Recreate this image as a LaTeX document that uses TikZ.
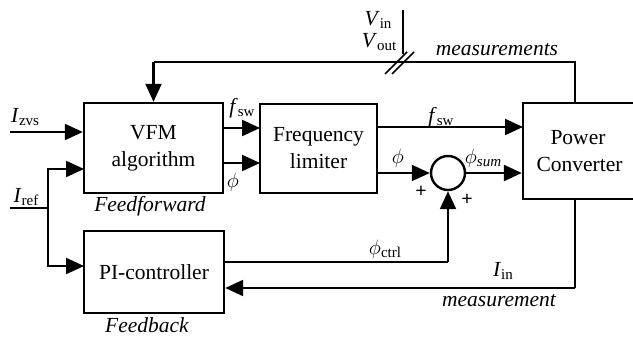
\documentclass[tikz,border=0pt]{standalone}
\usepackage{fontspec}
\setmainfont{Liberation Serif}
\usetikzlibrary{arrows.meta,calc}
\newcommand\sbs[1]{\raisebox{-0.35ex}{\fontsize{15}{15}\selectfont #1}}
\begin{document}
\begin{tikzpicture}[x=1pt,y=-1pt,
  blk/.style={draw,line width=2.4pt,rectangle,align=center,inner sep=0pt,font=\fontsize{21.5}{27}\selectfont},
  ln/.style={line width=2.2pt},
  arr/.style={ln,-{Triangle[length=18pt,width=16pt]}},
  lbl/.style={inner sep=0pt,font=\fontsize{21.5}{26}\selectfont},
  ilbl/.style={lbl,font=\fontsize{21.5}{26}\selectfont\itshape}]
\useasboundingbox (0,0) rectangle (633,339);
\clip (0,0) rectangle (633,339);
% blocks
\node[blk,minimum width=139pt,minimum height=90pt] (vfm) at (153.5,148) {VFM\\algorithm};
\node[blk,minimum width=117pt,minimum height=89pt] (fl) at (318.5,148.5) {Frequency\\limiter};
\node[blk,minimum width=113pt,minimum height=96pt,text width=113pt] (pc) at (579.5,151) {\hspace*{-3pt}Power\\Converter};
\node[blk,minimum width=140pt,minimum height=82pt] (pi) at (154,272) {PI-controller};
\node[draw,circle,line width=2.4pt,minimum size=34pt,inner sep=0pt] (sum) at (448,173) {};
% coordinates
\coordinate (izvs) at (10,132);
\coordinate (iref) at (10,208);
\coordinate (j) at (48,208);
\coordinate (vin2) at (84,169);
\coordinate (piin) at (84,266);
\coordinate (fswa) at (223,128);
\coordinate (fswb) at (260,128);
\coordinate (phia) at (223,163);
\coordinate (phib) at (260,163);
\coordinate (fswc) at (377,127);
\coordinate (fswd) at (523,127);
\coordinate (vtop) at (403,10);
\coordinate (mtop) at (575,62);
\coordinate (mbot) at (575,288);
\coordinate (ctrl) at (448,262);
\coordinate (ctrlst) at (224,262);
% connectors
\draw[arr] (izvs) -- (izvs -| vfm.west);
\draw[ln] (iref) -- (j);
\draw[arr] (j) |- (vin2);
\draw[arr] (j) |- (piin);
\draw[arr] (fswa) -- (fswb);
\draw[arr] (phia) -- (phib);
\draw[arr] (fswc) -- (fswd);
\draw[arr] (fl.east |- sum) -- (sum.west);
\draw[arr] (sum.east) -- (sum -| pc.west);
\draw[ln] (ctrlst) -- (ctrl);
\draw[arr] (ctrl) -- (sum.south);
\draw[ln] (pc.south -| mbot) -- (mbot);
\draw[arr] (mbot) -- (mbot -| pi.east);
\draw[ln] (pc.north -| mtop) -- (mtop) -- (mtop -| vfm.north);
\draw[arr] (mtop -| vfm.north) -- (vfm.north);
\coordinate (vbot) at (403,54);
\draw[ln] (vtop) -- (vbot);
\draw[line width=1.6pt] (385,74) -- (407,52);
\draw[line width=1.6pt] (392,74) -- (414,52);
% labels
\node[lbl] (lzvs) at (25,117) {\textit{I}\sbs{zvs}};
\node[lbl] (lref) at (26,197) {\textit{I}\sbs{ref}};
\node[lbl] (lfsw1) at (242,108) {\textit{f}\sbs{sw}};
\node[lbl] (lphi1) at (233,182) {$\phi$};
\node[ilbl] (lff) at (150,206) {Feedforward};
\node[ilbl] (lfb) at (147,325) {Feedback};
\node[lbl] (lfsw2) at (441,117) {\textit{f}\sbs{sw}};
\node[lbl] (lphi2) at (398,158) {$\phi$};
\node[lbl] (lsum) at (483,158) {$\phi$\sbs{\itshape sum}};
\node[lbl] (lctrl) at (385,249) {$\phi$\sbs{ctrl}};
\node[lbl] (lin) at (503,271) {\textit{I}\sbs{in}};
\node[ilbl] (lmeas) at (499,301) {measurement};
\node[ilbl] (lmeass) at (497,50) {measurements};
\node[lbl] (lvin) at (378,20) {\textit{V}\sbs{in}};
\node[lbl] (lvout) at (379,42) {\textit{V}\sbs{out}};
\node[lbl,font=\fontsize{20}{20}\selectfont\bfseries] (p1) at (421,192) {+};
\node[lbl,font=\fontsize{20}{20}\selectfont\bfseries] (p2) at (467,200) {+};
\end{tikzpicture}
\end{document}
